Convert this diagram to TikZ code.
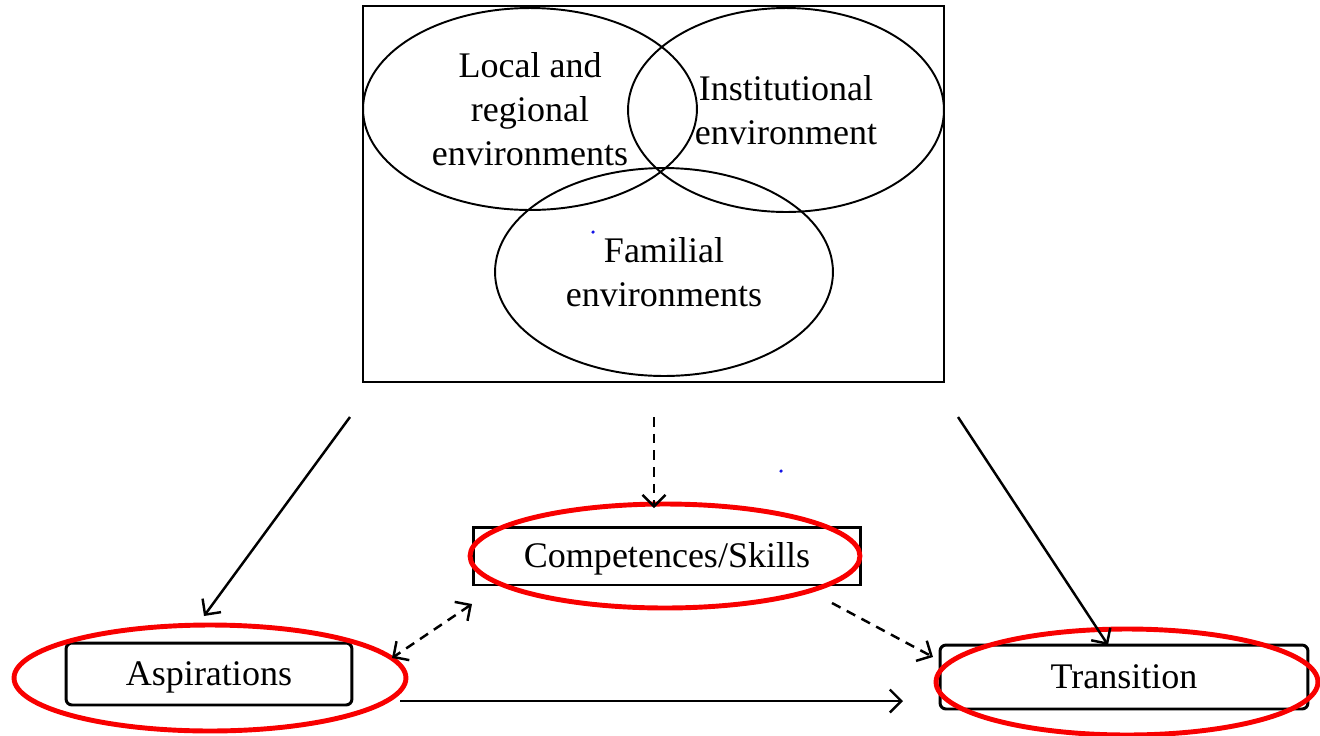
\documentclass[tikz,border=0pt]{standalone}
\usepackage{fontspec}
\setmainfont{Liberation Serif}
\usetikzlibrary{arrows.meta,shapes.geometric}
\definecolor{ringred}{RGB}{248,0,0}
\definecolor{dotblue}{RGB}{20,20,230}
\begin{document}
\begin{tikzpicture}[x=0.02cm,y=-0.02cm,
  lbl/.style={font=\fontsize{20.5}{25}\selectfont, align=center},
  frame/.style={draw, line width=1.3pt, inner sep=0pt},
  venn/.style={draw, ellipse, line width=1.1pt, inner sep=0pt, lbl},
  factor/.style={draw, line width=1.7pt, inner sep=0pt, lbl, text height=13.6pt, text depth=0pt},
  ring/.style={draw=ringred, ellipse, line width=2.8pt, inner sep=0pt},
  tip/.style={Straight Barb[length=6.5pt,width=13pt]},
  link/.style={line width=1.4pt, -{Straight Barb[length=6.5pt,width=13pt]}},
  dlink/.style={link, dash pattern=on 5.5pt off 4pt}]
\useasboundingbox (0,0) rectangle (1320,735);

% environment frame with the three overlapping contexts
\node[frame, minimum width=11.62cm, minimum height=7.52cm] (env) at (653.5,194) {};
\node[venn, minimum width=6.68cm, minimum height=4.04cm] (local) at (530,109)
  {Local and\\regional\\environments};
\node[venn, minimum width=6.32cm, minimum height=4.08cm] (inst) at (786,110)
  {Institutional\\environment};
\node[venn, minimum width=6.76cm, minimum height=4.16cm] (fam) at (664,272)
  {Familial\\environments};

% outcome boxes
\node[factor, minimum width=7.76cm, minimum height=1.16cm] (comp) at (667,556) {Competences/Skills};
\node[factor, rounded corners=0.12cm, minimum width=5.72cm, minimum height=1.24cm] (asp) at (209,674) {Aspirations};
\node[factor, rounded corners=0.12cm, minimum width=7.36cm, minimum height=1.28cm] (trans) at (1124,677) {Transition};

% highlight rings
\node[ring, minimum width=7.8cm, minimum height=2.08cm] (compring) at (665,556) {};
\node[ring, minimum width=7.84cm, minimum height=2.12cm] (aspring) at (210,678) {};
\node[ring, minimum width=7.64cm, minimum height=2.12cm] (transring) at (1127,682) {};

% connector end points
\coordinate (envL) at (350,417);
\coordinate (envM) at (654,417);
\coordinate (envR) at (958,417);
\coordinate (aspTop) at (204,616);
\coordinate (compTop) at (654,508);
\coordinate (transTop) at (1108,645);
\coordinate (compSW) at (472,604);
\coordinate (aspNE) at (392,658);
\coordinate (compSE) at (832,603);
\coordinate (transNW) at (933,657);
\coordinate (aspE) at (400,701);
\coordinate (transW) at (903,701);

\draw[link] (envL) -- (aspTop);
\draw[dlink] (envM) -- (compTop);
\draw[link] (envR) -- (transTop);
\draw[dlink, {Straight Barb[length=6.5pt,width=13pt]}-{Straight Barb[length=6.5pt,width=13pt]}] (compSW) -- (aspNE);
\draw[dlink] (compSE) -- (transNW);
\draw[link] (aspE) -- (transW);

% stray marks
\fill[dotblue] (593,232) circle[radius=1pt];
\fill[dotblue] (781,471) circle[radius=1pt];
\end{tikzpicture}
\end{document}
